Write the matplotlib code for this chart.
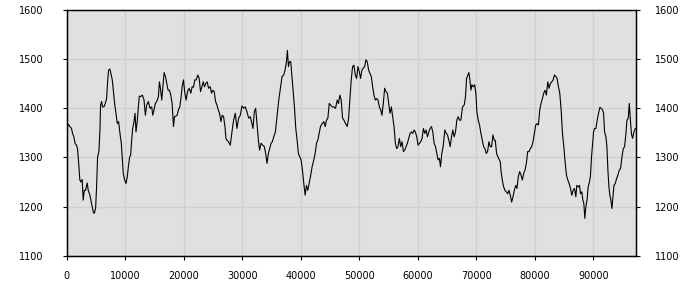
import matplotlib

matplotlib.use("Agg")
import matplotlib.pyplot as plt

# traced series (x in samples, y in value units)
sample_x = [
    0, 290, 570, 860, 1030, 1260, 1480, 1710, 1880, 2060, 2280, 2450, 2680, 2850,
    3030, 3250, 3540, 3710, 4000, 4280, 4570, 4740, 4970, 5140, 5310, 5540, 5710,
    5820, 5990, 6160, 6390, 6620, 6850, 7020, 7190, 7420, 7590, 7820, 8050, 8220,
    8450, 8680, 8900, 9130, 9360, 9530, 9700, 9930, 10160, 10390, 10560, 10790,
    10960, 11130, 11300, 11530, 11700, 11870, 12100, 12270, 12440, 12670, 12960,
    13240, 13470, 13700, 13980, 14270, 14560, 14730, 14950, 15180, 15410, 15700,
    15870, 16040, 16270, 16440, 16670, 16900, 17120, 17350, 17580, 17810, 18040,
    18270, 18440, 18670, 18890, 19120, 19350, 19580, 19750, 19980, 20210, 20430,
    20660, 20950, 21230, 21460, 21690, 21920, 22150, 22430, 22660, 22890, 23120,
    23350, 23570, 23800, 24030, 24260, 24540, 24770, 25000, 25230, 25460, 25690,
    25910, 26140, 26370, 26600, 26830, 27060, 27230, 27400, 27680,
    27970, 28260, 28540, 28830, 29110, 29400, 29680, 29970, 30250, 30540, 30820,
    31110, 31390, 31680, 31850, 32080, 32310, 32540, 32820, 32990, 33220, 33510,
    33790, 34020, 34250, 34480, 34710, 34930, 35160, 35390, 35680, 35960, 36250,
    36530, 36820, 37100, 37330, 37560, 37730, 37900, 38070, 38300, 38470, 38700,
    38930, 39160, 39390, 39610, 39840, 40070, 40300, 40530, 40760, 40980, 41210,
    41440, 41670, 41950, 42240, 42470, 42700, 42920, 43150, 43380, 43670, 43950,
    44180, 44410, 44640, 44870, 45090, 45380, 45660, 45950, 46240, 46460, 46690,
    46920, 47150, 47380, 47660, 47950, 48180, 48400, 48630, 48860, 49090, 49320,
    49550, 49770, 50000, 50230, 50460, 50690, 50920, 51140, 51370, 51600, 51830,
    52060, 52290, 52510, 52740, 52970, 53200, 53430, 53660, 53880, 54110, 54340,
    54570, 54800, 55030, 55250, 55480, 55710, 55940, 56170, 56400, 56620, 56850,
    57080, 57310, 57540, 57770, 57990, 58220, 58450, 58680, 58910, 59140, 59360,
    59590, 59820, 60050, 60280, 60510, 60730, 60960, 61190, 61420, 61650, 61880,
    62100, 62330, 62560, 62790, 63020, 63250, 63470, 63700, 63870, 64100, 64330,
    64620, 64840, 65070, 65300, 65530, 65760, 65980, 66210, 66440, 66670, 66900,
    67130,
    67350, 67640, 67930, 68150, 68330, 68550, 68720, 68900, 69070, 69240, 69470,
    69700, 69920, 70090, 70320, 70550, 70780, 71010, 71240, 71460, 71690, 71920,
    72150, 72380, 72610, 72830, 73060, 73230, 73460, 73690, 73920, 74090, 74200,
    74430, 74660, 74890, 75120, 75350, 75570, 75800, 76030, 76260, 76490, 76720,
    76940, 77170, 77400, 77630, 77860, 78090, 78310, 78540, 78770, 79000, 79230,
    79460, 79680, 79910, 80140, 80370, 80600, 80830, 81050, 81280, 81510, 81740,
    81970, 82200, 82420, 82650, 82880, 83110, 83340, 83570, 83790, 84020, 84250,
    84480, 84710, 84940, 85160, 85390, 85620, 85850, 86080, 86310, 86530, 86760,
    86990, 87160, 87390, 87620, 87790, 88020, 88190, 88360, 88530, 88700, 88930,
    89100, 89330, 89500, 89670, 89840, 90020, 90190, 90420, 90640, 90870, 91100,
    91330, 91560, 91730, 91900, 92130, 92300, 92470, 92640, 92810, 92980, 93160,
    93330, 93500, 93730, 93950, 94180, 94410, 94640, 94870, 95100, 95320, 95550,
    95720, 95950, 96120, 96350, 96520, 96690, 96920, 97150,
]
sample_y = [
    1358, 1368, 1363, 1359, 1349, 1342, 1328, 1325, 1318, 1291, 1254, 1250, 1255,
    1213, 1233, 1233, 1248, 1233, 1223, 1206, 1189, 1186, 1196, 1240, 1301, 1312,
    1356, 1407, 1414, 1403, 1403, 1410, 1420, 1454, 1478, 1480, 1471, 1458, 1431,
    1410, 1390, 1369, 1373, 1349, 1329, 1298, 1267, 1254, 1247, 1261, 1281, 1301,
    1305, 1335, 1359, 1373, 1390, 1352, 1376, 1403, 1425, 1424, 1427, 1417, 1386,
    1407, 1414, 1400, 1403, 1386, 1397, 1410, 1414, 1424, 1454, 1441, 1417, 1441,
    1473, 1465, 1451, 1437, 1437, 1427, 1410, 1363, 1383, 1384, 1386, 1397, 1403,
    1424, 1444, 1458, 1431, 1417, 1434, 1441, 1431, 1444, 1443, 1458, 1458, 1468,
    1461, 1434, 1444, 1454, 1444, 1451, 1454, 1441, 1444, 1431, 1437, 1434, 1414,
    1407, 1397, 1390, 1373, 1386, 1383, 1363, 1339, 1335, 1332,
    1325, 1352, 1376, 1390, 1359, 1380, 1386, 1405, 1400, 1403, 1393, 1380, 1383,
    1369, 1359, 1393, 1400, 1369, 1329, 1315, 1329, 1325, 1322, 1308, 1288, 1308,
    1318, 1329, 1332, 1342, 1352, 1383, 1417, 1441, 1465, 1468, 1478, 1495, 1518,
    1485, 1495, 1495, 1471, 1437, 1403, 1359, 1335, 1308, 1301, 1295, 1274, 1247,
    1223, 1243, 1233, 1247, 1261, 1281, 1295, 1308, 1329, 1335, 1349, 1363, 1369,
    1373, 1363, 1376, 1380, 1410, 1407, 1403, 1403, 1400, 1417, 1410, 1427, 1417,
    1380, 1376, 1369, 1363, 1380, 1417, 1458, 1485, 1488, 1468, 1461, 1485, 1475,
    1461, 1478, 1482, 1485, 1499, 1495, 1478, 1471, 1465, 1444, 1427, 1417, 1420,
    1417, 1403, 1397, 1386, 1410, 1441, 1434, 1431, 1410, 1390, 1403, 1383, 1363,
    1329, 1318, 1322, 1339, 1322, 1332, 1312, 1315, 1322, 1329, 1339, 1349, 1352,
    1349, 1356, 1352, 1342, 1325, 1329, 1332, 1339, 1359, 1349, 1356, 1342, 1352,
    1359, 1363, 1352, 1329, 1322, 1308, 1295, 1298, 1281, 1308, 1322, 1356, 1349,
    1346, 1335, 1322, 1342, 1356, 1342, 1352, 1376, 1383, 1376,
    1376, 1403, 1407, 1424, 1461, 1468, 1473, 1458, 1437, 1448, 1444, 1448, 1431,
    1393, 1376, 1366, 1349, 1335, 1322, 1318, 1308, 1312, 1332, 1322, 1322, 1346,
    1335, 1335, 1308, 1301, 1295, 1291, 1274, 1254, 1240, 1233, 1230, 1226, 1233,
    1223, 1209, 1220, 1233, 1243, 1237, 1261, 1271, 1264, 1254, 1268, 1274, 1288,
    1312, 1312, 1318, 1322, 1332, 1349, 1366, 1369, 1366, 1397, 1410, 1420, 1431,
    1437, 1427, 1454, 1441, 1451, 1454, 1458, 1468, 1465, 1461, 1444, 1431, 1397,
    1349, 1322, 1291, 1264, 1254, 1247, 1237, 1223, 1233, 1237, 1220, 1243, 1240,
    1243, 1226, 1230, 1213, 1206, 1176, 1199, 1216, 1240, 1250, 1264, 1301, 1325,
    1352, 1359, 1359, 1376, 1390, 1402, 1400, 1397, 1390, 1352, 1342, 1322, 1274,
    1240, 1223, 1213, 1196, 1220, 1243, 1247, 1257, 1264, 1274, 1278, 1301, 1318,
    1322, 1349, 1376, 1380, 1410, 1369, 1346, 1339, 1352, 1359,
]

y_ticks = [1100, 1200, 1300, 1400, 1500, 1600]
x_ticks = [0, 10000, 20000, 30000, 40000, 50000, 60000, 70000, 80000, 90000]


def main() -> None:
    fig = plt.figure(figsize=(7, 3), dpi=100)
    ax = fig.add_axes([0.095, 0.148, 0.813, 0.818])
    ax.set_facecolor("#e0e0e0")

    ax.plot(sample_x, sample_y, color="black", linewidth=0.8)

    ax.set_xlim(0, 97200)
    ax.set_ylim(1100, 1600)
    ax.set_xticks(x_ticks)
    ax.set_yticks(y_ticks)
    ax.grid(True, color="#d0d0d0", linewidth=1.0)
    ax.set_axisbelow(True)

    for spine in ax.spines.values():
        spine.set_color("black")
        spine.set_linewidth(1.0)

    ax.tick_params(axis="x", direction="out", length=3, pad=8, labelsize=7)
    ax.tick_params(axis="y", direction="out", length=3, pad=13.5, labelsize=7)

    # right-hand copy of the value axis
    right = ax.twinx()
    right.set_ylim(ax.get_ylim())
    right.set_yticks(y_ticks)
    right.tick_params(axis="y", direction="out", length=3, pad=11, labelsize=7)

    fig.savefig("out.png", dpi=100, facecolor="white")
    plt.close(fig)


if __name__ == "__main__":
    main()
